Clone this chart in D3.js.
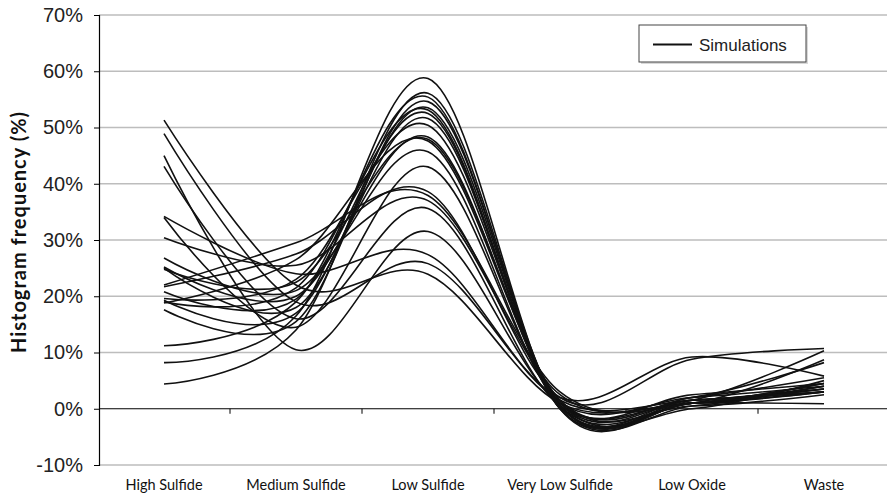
<!DOCTYPE html>
<html>
<head>
<meta charset="utf-8">
<script src="https://cdn.jsdelivr.net/npm/d3@7"></script>
<style>
  body { margin: 0; background: #fff; }
  svg { display: block; }
</style>
</head>
<body>
<div id="chart"></div>
<script>
// categories on the x axis
const categories = ['High Sulfide', 'Medium Sulfide', 'Low Sulfide', 'Very Low Sulfide', 'Low Oxide', 'Waste'];

// y ticks (%)
const yTicks = [-10, 0, 10, 20, 30, 40, 50, 60, 70];

// each simulation: value (%) per category
const sim01 = [51.3, 22.0, 23.9, 1.0, 1.0, 3.0];
const sim02 = [48.9, 19.0, 25.8, 1.5, 1.5, 3.5];
const sim03 = [45.0, 10.5, 31.5, 1.0, 2.0, 4.0];
const sim04 = [43.1, 16.0, 35.6, 0.5, 1.5, 3.0];
const sim05 = [34.2, 24.0, 27.4, 2.0, 9.2, 5.8];
const sim06 = [34.0, 14.5, 43.0, 1.0, 2.5, 4.5];
const sim07 = [30.4, 25.5, 37.0, 2.5, 1.0, 3.0];
const sim08 = [26.8, 21.0, 45.7, 0.5, 1.0, 4.0];
const sim09 = [25.2, 20.0, 48.3, 1.0, 1.5, 3.5];
const sim10 = [25.0, 18.0, 51.6, 0.5, 1.0, 4.5];
const sim11 = [24.8, 22.5, 47.9, 1.5, 0.5, 2.5];
const sim12 = [22.0, 29.5, 37.9, 3.0, 1.0, 8.7];
const sim13 = [21.7, 27.5, 38.6, 2.0, 8.8, 10.7];
const sim14 = [20.8, 19.5, 52.5, 0.0, 0.5, 4.0];
const sim15 = [19.6, 23.0, 50.4, 1.0, 0.0, 5.0];
const sim16 = [19.3, 17.0, 53.5, 0.5, 1.0, 3.5];
const sim17 = [19.0, 21.5, 53.1, 0.0, 1.5, 3.0];
const sim18 = [18.8, 26.5, 47.6, 1.5, 2.0, 8.2];
const sim19 = [17.6, 15.5, 54.6, 0.5, 1.0, 4.5];
const sim20 = [11.2, 19.0, 55.4, 0.5, 2.0, 5.5];
const sim21 = [8.2, 16.5, 58.7, 0.0, 1.0, 0.9];
const sim22 = [4.4, 14.0, 56.1, 0.5, 1.5, 10.3];

const simulations = [sim01, sim02, sim03, sim04, sim05, sim06, sim07, sim08, sim09, sim10, sim11,
    sim12, sim13, sim14, sim15, sim16, sim17, sim18, sim19, sim20, sim21, sim22];

const width = 887;
const height = 496;
const plot = { left: 99, right: 891, top: 15, bottom: 465 };

const svg = d3.select('#chart')
    .append('svg')
    .attr('width', width)
    .attr('height', height);

const x = d3.scalePoint()
    .domain(categories)
    .range([plot.left + 65, plot.right - 67]);
const step = x.step();

const y = d3.scaleLinear()
    .domain([-10, 70])
    .range([plot.bottom, plot.top]);

// gridlines
svg.append('g')
    .selectAll('line')
    .data(yTicks.filter((d) => d !== 0))
    .enter()
    .append('line')
    .attr('x1', plot.left)
    .attr('x2', width)
    .attr('y1', (d) => y(d))
    .attr('y2', (d) => y(d))
    .attr('stroke', '#bdbdbd')
    .attr('stroke-width', 1.3);

// y axis
const yAxis = d3.axisLeft(y)
    .tickValues(yTicks)
    .tickSize(5)
    .tickPadding(11)
    .tickFormat((d) => d + '%');

const yG = svg.append('g')
    .attr('transform', `translate(${plot.left},0)`)
    .call(yAxis);
yG.select('.domain').attr('stroke', '#000').attr('stroke-width', 1.2);
yG.selectAll('.tick line').attr('stroke', '#000');
yG.selectAll('.tick text')
    .attr('font-family', 'Liberation Sans, Arial, sans-serif')
    .attr('font-size', 20)
    .attr('fill', '#222');

// category axis sits on 0%
svg.append('line')
    .attr('x1', plot.left)
    .attr('x2', width)
    .attr('y1', y(0))
    .attr('y2', y(0))
    .attr('stroke', '#000')
    .attr('stroke-width', 1.2);

svg.append('g')
    .selectAll('line')
    .data(categories.slice(1))
    .enter()
    .append('line')
    .attr('x1', (d) => x(d) - step / 2)
    .attr('x2', (d) => x(d) - step / 2)
    .attr('y1', y(0))
    .attr('y2', y(0) + 5)
    .attr('stroke', '#000');

svg.append('g')
    .selectAll('text')
    .data(categories)
    .enter()
    .append('text')
    .attr('x', (d) => x(d))
    .attr('y', 490)
    .attr('text-anchor', 'middle')
    .attr('font-family', 'Lato, sans-serif')
    .attr('font-size', 14.5)
    .attr('fill', '#111')
    .text((d) => d);

// y title
svg.append('text')
    .attr('transform', 'translate(26,232) rotate(-90)')
    .attr('text-anchor', 'middle')
    .attr('font-family', 'Lato, sans-serif')
    .attr('font-weight', 'bold')
    .attr('font-size', 20)
    .attr('letter-spacing', 1)
    .attr('fill', '#111')
    .text('Histogram frequency (%)');

// smoothed lines
const line = d3.line()
    .x((d, i) => x(categories[i]))
    .y((d) => y(d))
    .curve(d3.curveCardinal.tension(0));

svg.append('g')
    .selectAll('path')
    .data(simulations)
    .enter()
    .append('path')
    .attr('d', line)
    .attr('fill', 'none')
    .attr('stroke', '#111')
    .attr('stroke-width', 1.6);

// legend
const legend = svg.append('g').attr('transform', 'translate(639,25)');
legend.append('rect')
    .attr('x', 2)
    .attr('y', 2)
    .attr('width', 167)
    .attr('height', 37)
    .attr('fill', '#d8d8d8');
legend.append('rect')
    .attr('width', 167)
    .attr('height', 37)
    .attr('fill', '#fff')
    .attr('stroke', '#444')
    .attr('stroke-width', 1);
legend.append('line')
    .attr('x1', 14)
    .attr('x2', 53)
    .attr('y1', 19.5)
    .attr('y2', 19.5)
    .attr('stroke', '#111')
    .attr('stroke-width', 2);
legend.append('text')
    .attr('x', 60)
    .attr('y', 26)
    .attr('font-family', 'Liberation Sans, Arial, sans-serif')
    .attr('font-size', 17)
    .attr('fill', '#222')
    .text('Simulations');
</script>
</body>
</html>
